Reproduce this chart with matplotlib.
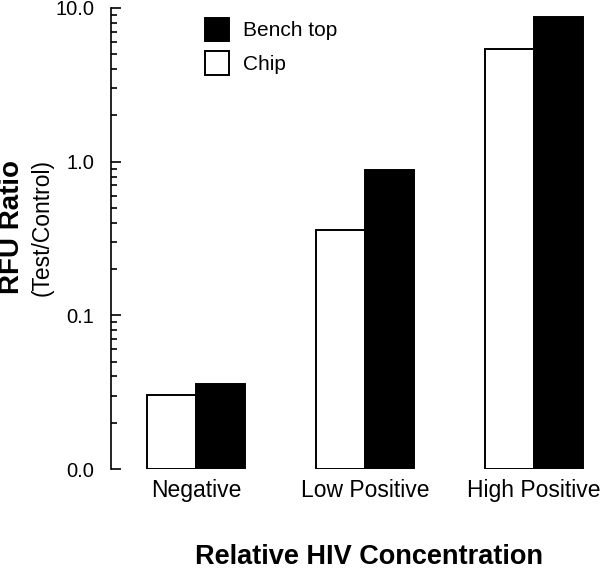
import matplotlib.pyplot as plt
import numpy as np
from matplotlib.ticker import FixedLocator, FixedFormatter, LogLocator, NullFormatter

plt.rcParams['font.family'] = ['Liberation Sans', 'DejaVu Sans']

categorias = ['Negative', 'Low Positive', 'High Positive']
chip = [0.0305, 0.359, 5.40]
bench = [0.0358, 0.883, 8.73]
y_ticks = [0.01, 0.1, 1.0, 10.0]
y_labels = ['0.0', '0.1', '1.0', '10.0']
base = 0.01

fig = plt.figure(figsize=(6.0, 5.71), dpi=100)
ax = fig.add_axes([0.185, 0.1786, 0.815, 0.8074])

x = np.arange(len(categorias))
w = 0.29
ax.bar(x - w / 2, np.array(chip) - base, w, bottom=base, color='white',
       edgecolor='black', linewidth=1.4, label='Chip')
ax.bar(x + w / 2, np.array(bench) - base, w, bottom=base, color='black',
       edgecolor='black', linewidth=1.4, label='Bench top')

ax.set_yscale('log')
ax.set_ylim(0.01, 10)
ax.set_xlim(-0.503, 2.39)
ax.yaxis.set_major_locator(FixedLocator(y_ticks))
ax.yaxis.set_major_formatter(FixedFormatter(y_labels))
ax.yaxis.set_minor_locator(LogLocator(base=10, subs=np.arange(2, 10)))
ax.yaxis.set_minor_formatter(NullFormatter())
ax.tick_params(axis='y', which='major', direction='in', length=7, width=1.2,
               labelsize=14.5, pad=12)
ax.tick_params(axis='y', which='minor', direction='in', length=4, width=1.2)

ax.set_xticks(x)
ax.set_xticklabels(categorias, fontsize=16.5)
ax.tick_params(axis='x', length=0, pad=7)

for s in ['top', 'right', 'bottom']:
    ax.spines[s].set_visible(False)
ax.spines['left'].set_linewidth(1.2)

handles, labels = ax.get_legend_handles_labels()
ax.legend(handles[::-1], labels[::-1], loc='upper left',
          bbox_to_anchor=(0.153, 1.02), frameon=False, fontsize=15,
          handlelength=1.15, handleheight=1.35, handletextpad=0.7,
          labelspacing=0.5)

fig.text(0.615, 0.025, 'Relative HIV Concentration', fontsize=19.5,
         fontweight='bold', ha='center', va='center')
fig.text(0.02, 0.603, 'RFU Ratio', fontsize=20, fontweight='bold',
         rotation=90, ha='center', va='center')
fig.text(0.07, 0.601, '(Test/Control)', fontsize=16.5,
         rotation=90, ha='center', va='center')

plt.savefig('out.png', dpi=100)
